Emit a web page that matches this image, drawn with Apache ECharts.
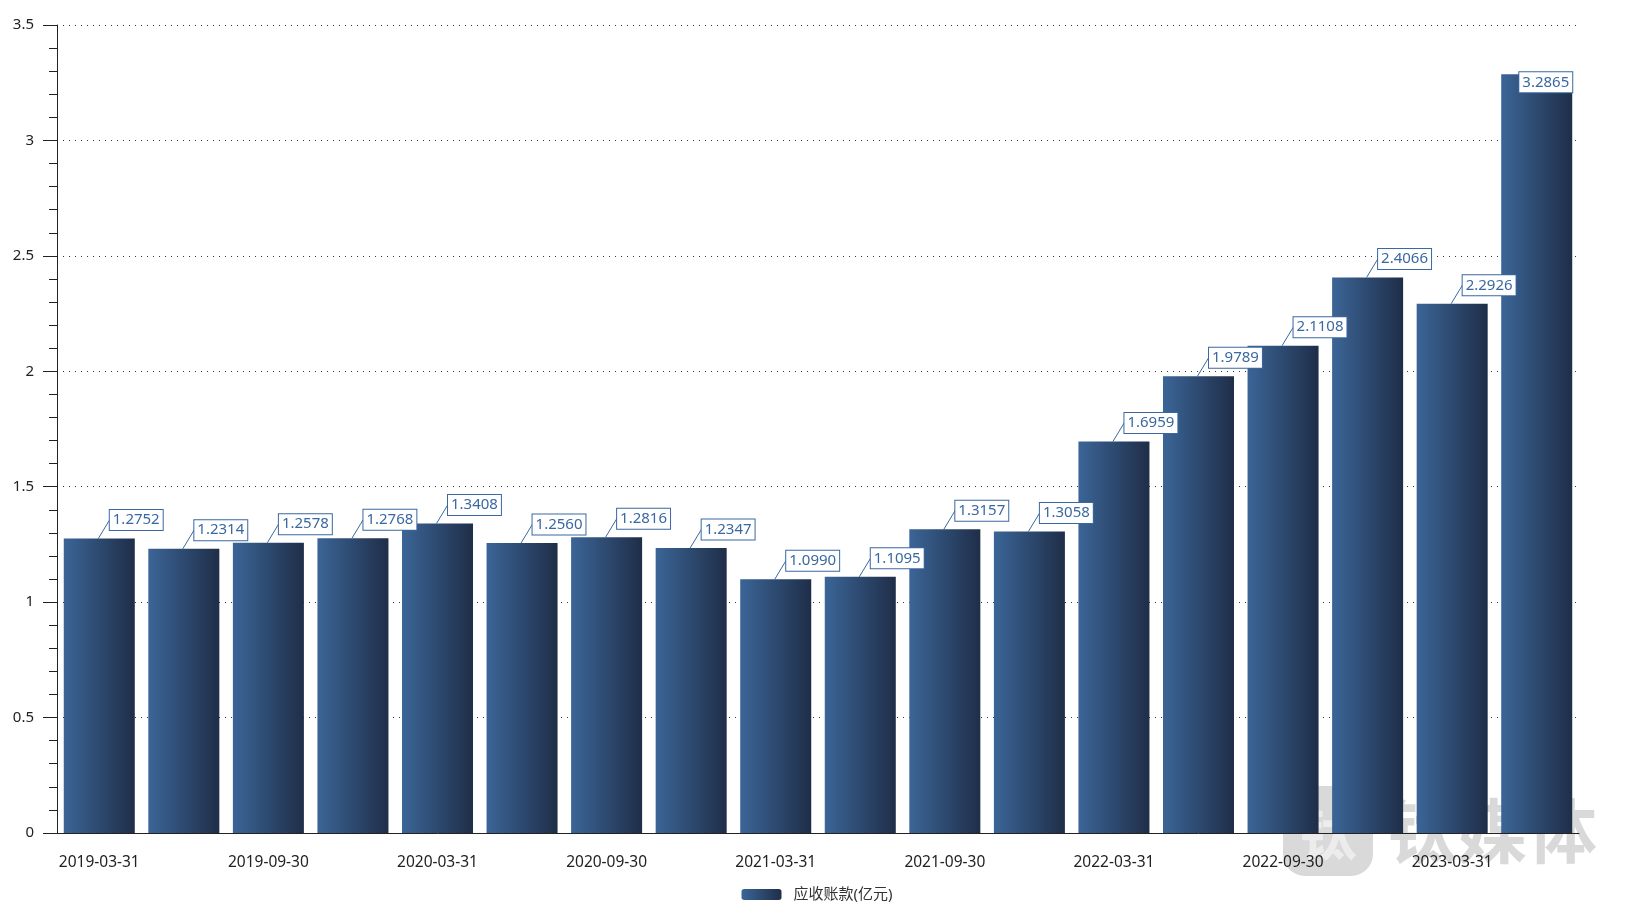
<!DOCTYPE html>
<html>
<head>
<meta charset="utf-8">
<script src="https://cdn.jsdelivr.net/npm/echarts@6/dist/echarts.min.js"></script>
<style>
html,body{margin:0;padding:0;background:#fff;}
#main{width:1634px;height:907px;}
</style>
</head>
<body>
<div id="main"></div>
<script>
const categories = ['2019-03-31','2019-06-30','2019-09-30','2019-12-31','2020-03-31','2020-06-30','2020-09-30','2020-12-31','2021-03-31','2021-06-30','2021-09-30','2021-12-31','2022-03-31','2022-06-30','2022-09-30','2022-12-31','2023-03-31','2023-06-30'];
const receivables = [1.2752,1.2314,1.2578,1.2768,1.3408,1.2560,1.2816,1.2347,1.0990,1.1095,1.3157,1.3058,1.6959,1.9789,2.1108,2.4066,2.2926,3.2865];
const seriesName = '应收账款(亿元)';

const FONT = '"Noto Sans","Noto Sans CJK SC",sans-serif';
const barGrad = new echarts.graphic.LinearGradient(0,0,1,0,[
  {offset:0,color:'#3b6597'},
  {offset:1,color:'#1f2e48'}
]);
const labelBlue = '#3a68a0';

const chart = echarts.init(document.getElementById('main'));
const lastIdx = receivables.length - 1;

chart.setOption({
  animation:false,
  textStyle:{fontFamily:FONT},
  grid:{left:57,right:55,top:25,bottom:74},
  legend:{
    bottom:0,left:'center',
    itemWidth:40,itemHeight:11,
    data:[seriesName],
    textStyle:{fontFamily:FONT,fontSize:15,color:'#333',padding:[0,0,0,7]}
  },
  xAxis:[{
    type:'category',data:categories,
    axisLine:{lineStyle:{color:'#222',width:1}},
    axisTick:{alignWithLabel:true,interval:1,length:12,lineStyle:{color:'#222'}},
    axisLabel:{interval:1,margin:22,fontSize:15.5,color:'#222',fontFamily:FONT}
  },{
    type:'category',data:categories,position:'bottom',
    axisLine:{show:false},
    axisTick:{alignWithLabel:true,interval:0,length:6,lineStyle:{color:'#222'}},
    axisLabel:{show:false}
  }],
  yAxis:{
    type:'value',min:0,max:3.5,interval:0.5,
    axisLine:{show:true,lineStyle:{color:'#222',width:1}},
    axisTick:{show:true,length:14,lineStyle:{color:'#222'}},
    minorTick:{show:true,splitNumber:5,length:8,lineStyle:{color:'#222'}},
    axisLabel:{fontSize:15,color:'#222',margin:23,fontFamily:FONT},
    splitLine:{show:true,lineStyle:{color:'#333',type:[1,5],width:1}}
  },
  series:[{
    name:seriesName,type:'bar',data:receivables,
    barCategoryGap:'16%',
    itemStyle:{color:barGrad}
  },{
    type:'custom',name:'labels',
    data:receivables.map((v,i)=>[i,v]),
    z:10,
    silent:true,
    renderItem:function(params,api){
      const i = api.value(0), v = api.value(1);
      const p = api.coord([i,v]);
      const band = api.size([1,0])[0];
      const txtStyle = {
        text: v.toFixed(4),
        fontSize:15,fontFamily:FONT,fill:labelBlue,
        backgroundColor:'#fff',borderColor:labelBlue,borderWidth:1,
        padding:[3,3,2,3]
      };
      if(i === lastIdx){
        return {type:'text',x:p[0]+band*0.42,y:p[1]+8,
          style:Object.assign({},txtStyle,{align:'right',verticalAlign:'middle'})};
      }
      const ex = p[0]+10.5, ey = p[1]-19;
      return {type:'group',children:[
        {type:'line',shape:{x1:p[0]-1,y1:p[1],x2:ex,y2:ey},style:{stroke:labelBlue,lineWidth:1}},
        {type:'text',x:ex,y:ey+0.5,style:Object.assign({},txtStyle,{align:'left',verticalAlign:'middle'})}
      ]};
    }
  }],
  graphic:[{
    type:'group',left:1283,top:786,silent:true,z:100,
    children:[
      {type:'rect',shape:{x:0,y:0,width:90,height:90,r:22},style:{fill:'rgba(170,170,170,0.45)'}},
      {type:'text',x:45,y:47,style:{text:'钛',font:'bold 58px "Noto Sans CJK SC"',fill:'rgba(255,255,255,0.5)',align:'center',verticalAlign:'middle'}},
      {type:'text',x:104,y:45,style:{text:'钛媒体',font:'bold 70px "Noto Sans CJK SC"',fill:'rgba(170,170,170,0.45)',align:'left',verticalAlign:'middle'}}
    ]
  }]
});
</script>
</body>
</html>
